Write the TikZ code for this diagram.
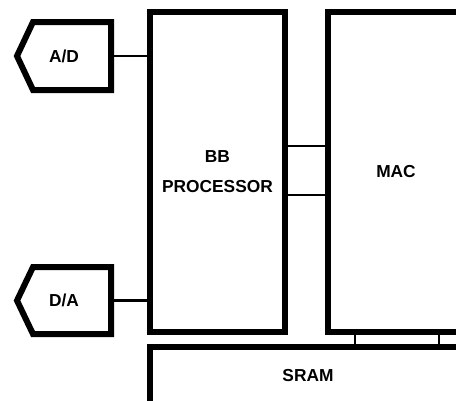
\documentclass[tikz,border=0pt]{standalone}
\usepackage{fontspec}
\setmainfont{Liberation Sans}

\begin{document}
\begin{tikzpicture}[
    x=1pt, y=-1pt,
    box_unit/.style={draw, rectangle, line width=4.5pt, inner sep=0pt, outer sep=0pt,
      align=center, font=\fontsize{13}{22.5}\selectfont\bfseries},
    port_unit/.style={rectangle, draw=none, inner sep=0pt, outer sep=0pt,
      minimum width=70.5pt, font=\fontsize{13}{15}\selectfont\bfseries},
    shell_path/.style={line width=4.5pt},
    wire_path/.style={line width=2pt}
  ]
    \useasboundingbox (0,0) rectangle (342,300);
    \clip (0,0) rectangle (342,300);

    \node[box_unit, minimum width=101.25pt, minimum height=240pt] (BB) at (163.1,129) {BB\\PROCESSOR};
    \node[box_unit, minimum width=102pt, minimum height=240pt] (MAC) at (297,129) {MAC};
    \node[box_unit, minimum width=237pt, minimum height=43.5pt] (SRAM) at (231,282) {SRAM};

    \node[port_unit, minimum height=51pt] (AD) at (48,42) {A/D};
    \node[port_unit, minimum height=50.25pt] (DA) at (48,225.4) {D/A};

    % converter outlines
    \draw[shell_path] (AD.west) -- ([xshift=12pt]AD.north west) -- (AD.north east)
      -- (AD.south east) -- ([xshift=12pt]AD.south west) -- cycle;
    \draw[shell_path] (DA.west) -- ([xshift=12pt]DA.north west) -- (DA.north east)
      -- (DA.south east) -- ([xshift=12pt]DA.south west) -- cycle;

    \coordinate (bus_a) at (230,109.5);
    \coordinate (bus_b) at (230,146.25);
    \coordinate (link_a) at (266.25,255);
    \coordinate (link_b) at (329.25,255);

    \draw[wire_path] (AD.east) to (AD.east -| BB.west);
    \draw[wire_path] (DA.east) to (DA.east -| BB.west);

    \draw[wire_path] (bus_a -| BB.east) to (bus_a -| MAC.west);
    \draw[wire_path] (bus_b -| BB.east) to (bus_b -| MAC.west);

    \draw[wire_path] (link_a |- MAC.south) to (link_a |- SRAM.north);
    \draw[wire_path] (link_b |- MAC.south) to (link_b |- SRAM.north);
  \end{tikzpicture}
\end{document}
